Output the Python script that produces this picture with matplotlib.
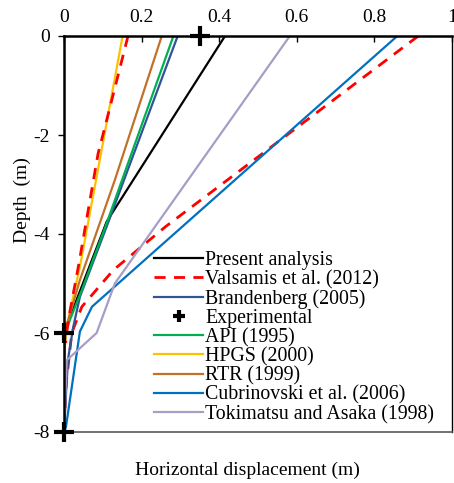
"""
Lateral pile displacement vs depth — comparison of methods.
"""
import matplotlib
matplotlib.use("Agg")
import matplotlib.pyplot as plt

plt.rcParams["font.family"] = ["Liberation Serif", "DejaVu Serif"]
plt.rcParams["axes.unicode_minus"] = False

# ---------------------------------------------------------------- data
# (displacement m, depth m)
present_x = [0.415, 0.110, 0.034, 0.0, 0.0]
present_d = [0.0, -3.75, -5.30, -6.0, -8.0]

valsamis_x = [0.913, 0.262, 0.127, 0.046, 0.020, 0.006, 0.0]
valsamis_d = [0.0, -3.85, -4.73, -5.47, -6.0, -7.0, -8.0]
valsamis2_x = [0.165, 0.110, 0.088, 0.037, 0.011, 0.004]
valsamis2_d = [0.0, -1.70, -2.37, -4.66, -5.74, -6.2]

brandenberg_x = [0.293, 0.110, 0.041, 0.024, 0.011, 0.007, 0.0]
brandenberg_d = [0.0, -3.85, -5.27, -5.87, -6.5, -6.95, -8.0]

exp_x = [0.35, 0.0, 0.0]
exp_d = [0.0, -6.0, -8.0]

api_x = [0.282, 0.110, 0.046, 0.015, 0.0, 0.0]
api_d = [0.0, -3.78, -5.13, -5.74, -6.1, -8.0]

hpgs_x = [0.151, 0.097, 0.041, 0.006, 0.0, 0.0]
hpgs_d = [0.0, -2.30, -4.66, -5.90, -6.5, -8.0]

rtr_x = [0.252, 0.131, 0.041, 0.005, 0.0, 0.0]
rtr_d = [0.0, -2.91, -4.93, -5.90, -6.5, -8.0]

cubri_x = [0.859, 0.072, 0.041, 0.005, 0.0]
cubri_d = [0.0, -5.47, -5.97, -7.90, -8.0]

toki_x = [0.582, 0.131, 0.084, 0.007, 0.0]
toki_d = [0.0, -5.0, -6.0, -6.55, -8.0]

xticks = [0, 0.2, 0.4, 0.6, 0.8, 1]
xticklabels = ["0", "0.2", "0.4", "0.6", "0.8", "1"]
yticks = [0, -2, -4, -6, -8]

# ---------------------------------------------------------------- plot
fig = plt.figure(figsize=(4.54, 4.83), dpi=100)
ax = fig.add_axes([64 / 454, 1 - 432 / 483, 388 / 454, 396 / 483])

fs = 14
lw = 1.6
ax.plot(present_x, present_d, color="black", lw=lw, label="Present analysis")
ax.plot(valsamis_x, valsamis_d, color="#FF0000", lw=2, dashes=(4, 3),
        label="Valsamis et al. (2012)")
ax.plot(brandenberg_x, brandenberg_d, color="#2F5597", lw=lw,
        label="Brandenberg (2005)")
ax.plot(exp_x, exp_d, ls="none", marker="+", color="black", ms=14, mew=3,
        clip_on=False, zorder=5, label="Experimental")
ax.plot(api_x, api_d, color="#00B050", lw=lw, label="API (1995)")
ax.plot(hpgs_x, hpgs_d, color="#FFC000", lw=lw, label="HPGS (2000)")
ax.plot(rtr_x, rtr_d, color="#C0712A", lw=lw, label="RTR (1999)")
ax.plot(cubri_x, cubri_d, color="#0070C0", lw=lw,
        label="Cubrinovski et al. (2006)")
ax.plot(toki_x, toki_d, color="#A79DC6", lw=lw,
        label="Tokimatsu and Asaka (1998)")
ax.plot(valsamis2_x, valsamis2_d, color="#FF0000", lw=2, dashes=(4, 3))

ax.set_xlim(0, 1)
ax.set_ylim(-8, 0)
ax.xaxis.tick_top()
ax.set_xticks(xticks)
ax.set_xticklabels(xticklabels)
ax.set_yticks(yticks)
ax.tick_params(axis="x", direction="in", length=4, width=1, pad=7,
               labelsize=fs)
ax.tick_params(axis="y", direction="out", length=4, width=1, pad=6,
               labelsize=fs)

for s in ("top", "left"):
    ax.spines[s].set_linewidth(1.8)
    ax.spines[s].set_color("black")
ax.spines["right"].set_linewidth(1.0)
ax.spines["bottom"].set_linewidth(1.2)
ax.spines["bottom"].set_color("#595959")

ax.set_ylabel("Depth  (m)", fontsize=fs)
ax.yaxis.set_label_coords(-0.085, 0.586)
ax.set_xlabel("Horizontal displacement (m)", fontsize=fs)
ax.xaxis.set_label_position("bottom")
ax.xaxis.set_label_coords(0.472, -0.075)

ax.legend(loc="lower right", bbox_to_anchor=(0.975, 0.0), frameon=False,
          fontsize=14.3, handlelength=2.5, handletextpad=0.1,
          labelspacing=0.0, borderaxespad=0.0, markerscale=0.6)

fig.savefig("out.png", dpi=100)
